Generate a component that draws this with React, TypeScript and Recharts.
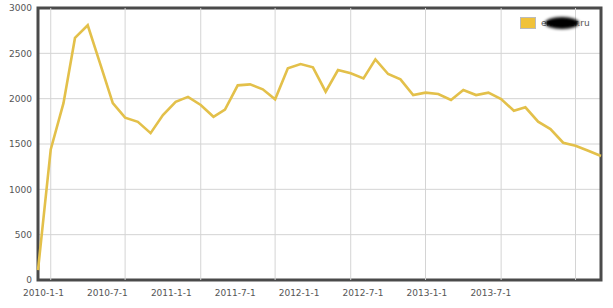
import React from "react";
import {
  LineChart,
  Line,
  XAxis,
  YAxis,
  CartesianGrid,
  ReferenceArea,
  ReferenceLine,
} from "recharts";

const months: string[] = [
  "2009-12",
  "2010-01", "2010-02", "2010-03", "2010-04", "2010-05", "2010-06",
  "2010-07", "2010-08", "2010-09", "2010-10", "2010-11", "2010-12",
  "2011-01", "2011-02", "2011-03", "2011-04", "2011-05", "2011-06",
  "2011-07", "2011-08", "2011-09", "2011-10", "2011-11", "2011-12",
  "2012-01", "2012-02", "2012-03", "2012-04", "2012-05", "2012-06",
  "2012-07", "2012-08", "2012-09", "2012-10", "2012-11", "2012-12",
  "2013-01", "2013-02", "2013-03", "2013-04", "2013-05", "2013-06",
  "2013-07", "2013-08", "2013-09",
];

const visits: number[] = [
  110,
  1440, 1950, 2670, 2810, 2390, 1950,
  1790, 1745, 1620, 1820, 1965, 2020,
  1930, 1800, 1880, 2147, 2158, 2103,
  1993, 2335, 2382, 2346, 2077, 2316,
  2280, 2224, 2434, 2272, 2213, 2040,
  2066, 2051, 1985, 2096, 2040, 2066,
  1996, 1867, 1905, 1746, 1665, 1514,
  1481, 1426, 1368,
];

const gridDates: [number, number][] = [
  [2010, 1], [2010, 7], [2011, 1], [2011, 7],
  [2012, 1], [2012, 7], [2013, 1], [2013, 7],
];

const tickLabels: string[] = [
  "2010-1-1", "2010-7-1", "2011-1-1", "2011-7-1",
  "2012-1-1", "2012-7-1", "2013-1-1", "2013-7-1",
];

// label slots along the axis (fraction of axis length), evenly spaced as in the source
const labelStart = 0.0098;
const labelStep = 0.1135;

const yTicks: number[] = [0, 500, 1000, 1500, 2000, 2500, 3000];

const seriesName = "emaster.ru";

const toTime = (y: number, m: number) => Date.UTC(y, m - 1, 1);

const data = months.map((mm, i) => {
  const [y, m] = mm.split("-").map(Number);
  return { t: toTime(y, m), v: visits[i] };
});

const t0 = data[0].t;
const t1 = data[data.length - 1].t;
const gridTicks = gridDates.map(([y, m]) => toTime(y, m));
const labelTicks = tickLabels.map((_, i) => t0 + (labelStart + labelStep * i) * (t1 - t0));

const FONT = "'DejaVu Sans', Verdana, sans-serif";
const FRAME = "#4a4a4a";
const GRID = "#d4d4d4";
const LINE = "#e3c04a";

const LegendBox = () => (
  <div
    style={{
      position: "absolute",
      left: 520,
      top: 17,
      display: "flex",
      alignItems: "center",
      fontFamily: FONT,
      fontSize: 9,
      color: "#555",
      lineHeight: "12px",
    }}
  >
    <span
      style={{
        display: "inline-block",
        width: 14,
        height: 10,
        background: "#f0c23a",
        border: "1px solid #bbb",
      }}
    />
    <span style={{ position: "relative", marginLeft: 5 }}>
      {seriesName}
      <span
        style={{
          position: "absolute",
          left: 4,
          top: 0,
          width: 34,
          height: 12,
          background: "#000",
          borderRadius: "50%",
          filter: "blur(1.5px)",
        }}
      />
    </span>
  </div>
);

export default function App() {
  return (
    <div style={{ position: "absolute", left: 0, top: 0, width: 613, height: 308 }}>
      <LineChart
        width={613}
        height={308}
        data={data}
        margin={{ top: 8, right: 12, bottom: 8, left: 0 }}
      >
        <CartesianGrid
          xAxisId="t"
          yAxisId="l"
          stroke={GRID}
          strokeWidth={1}
          horizontal
          vertical={false}
        />
        <XAxis
          xAxisId="t"
          dataKey="t"
          type="number"
          domain={[t0, t1]}
          ticks={gridTicks}
          tick={false}
          tickLine={false}
          axisLine={false}
          height={0}
        />
        <XAxis
          xAxisId="lab"
          dataKey="t"
          type="number"
          domain={[t0, t1]}
          ticks={labelTicks}
          interval={0}
          tickFormatter={(v: number) => {
            const i = labelTicks.indexOf(v);
            return i >= 0 ? tickLabels[i] : "";
          }}
          tick={{ fill: "#555", fontSize: 9, fontFamily: FONT }}
          tickLine={false}
          tickSize={6}
          tickMargin={4}
          height={20}
          axisLine={false}
        />
        <YAxis
          yAxisId="l"
          type="number"
          domain={[0, 3000]}
          ticks={yTicks}
          interval={0}
          width={38}
          tickLine={false}
          tickSize={4}
          tickMargin={2}
          tick={{ fill: "#555", fontSize: 9, fontFamily: FONT }}
          axisLine={false}
        />
        {gridTicks.map((t) => (
          <ReferenceLine
            key={t}
            xAxisId="t"
            yAxisId="l"
            x={t}
            stroke={GRID}
            strokeWidth={1}
          />
        ))}
        <ReferenceArea
          xAxisId="t"
          yAxisId="l"
          x1={t0}
          x2={t1}
          y1={0}
          y2={3000}
          fill="none"
          fillOpacity={0}
          stroke={FRAME}
          strokeWidth={3}
          ifOverflow="visible"
        />
        <Line
          xAxisId="t"
          yAxisId="l"
          type="linear"
          dataKey="v"
          name={seriesName}
          stroke={LINE}
          strokeWidth={2.6}
          dot={false}
          activeDot={false}
          isAnimationActive={false}
        />
      </LineChart>
      <LegendBox />
    </div>
  );
}
